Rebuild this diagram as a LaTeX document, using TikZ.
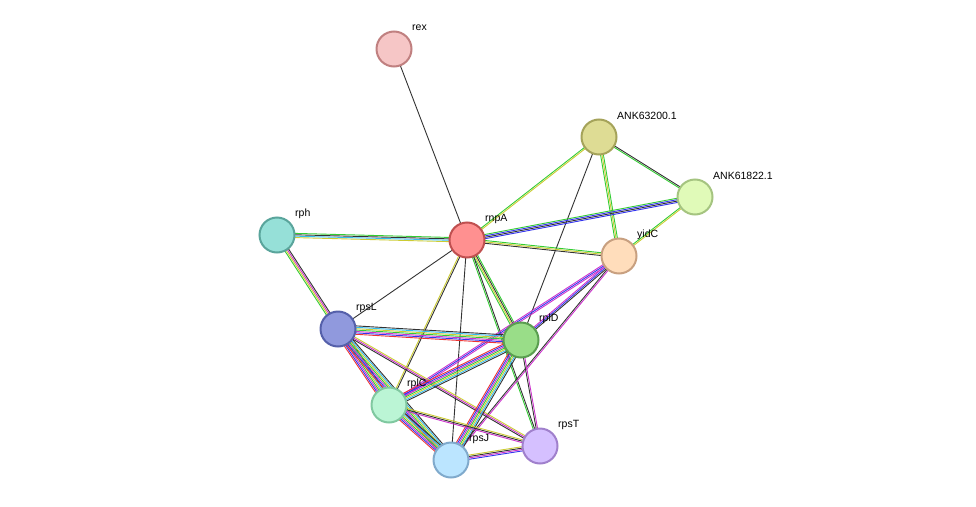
\documentclass[tikz,border=0pt]{standalone}
\usepackage{fontspec}
\setmainfont{Liberation Sans}
\usetikzlibrary{calc}
\definecolor{egreen}{HTML}{33CC33}
\definecolor{eyellow}{HTML}{CCCC33}
\definecolor{eblue}{HTML}{3333EE}
\definecolor{emag}{HTML}{CC33CC}
\definecolor{eblack}{HTML}{333333}
\definecolor{ecyan}{HTML}{33BBEE}
\definecolor{ered}{HTML}{EE3333}
\tikzset{prot/.style={circle,minimum size=35pt,inner sep=0pt,line width=2pt},
 lab/.style={font=\fontsize{10.5}{12}\selectfont,anchor=west,inner sep=0pt}}
\newcommand{\edge}[4]{%
 \foreach \c [count=\i] in {#4}{%
  \pgfmathsetmacro{\o}{(\i-(#3+1)/2)*1.4}%
  \draw[color=e\c,line width=0.9pt] ($(#1)!\o pt!90:(#2)$) -- ($(#2)!\o pt!-90:(#1)$);}}
\begin{document}
\begin{tikzpicture}[x=1pt,y=-1pt]
\useasboundingbox (0,0) rectangle (976,506);
\coordinate (rex) at (394,49);
\coordinate (a63) at (599,137);
\coordinate (a61) at (695,197);
\coordinate (rph) at (277,235);
\coordinate (rnpA) at (467,240);
\coordinate (yidC) at (619,256);
\coordinate (rpsL) at (338,329);
\coordinate (rplD) at (521,340);
\coordinate (rplC) at (389,405);
\coordinate (rpsJ) at (451,460);
\coordinate (rpsT) at (540,446);
\edge{rex}{rnpA}{1}{black}
\edge{a63}{rnpA}{2}{green,yellow}
\edge{a63}{a61}{2}{green,black}
\edge{a63}{yidC}{3}{green,yellow,green}
\edge{a63}{rplD}{1}{black}
\edge{a61}{rnpA}{4}{green,blue,black,blue}
\edge{a61}{yidC}{2}{green,yellow}
\edge{rph}{rnpA}{4}{yellow,cyan,black,green}
\edge{rph}{rpsL}{4}{green,yellow,mag,black}
\edge{rnpA}{yidC}{3}{black,yellow,green}
\edge{rnpA}{rpsL}{1}{black}
\edge{rnpA}{rplD}{4}{green,yellow,black,green}
\edge{rnpA}{rplC}{2}{yellow,black}
\edge{rnpA}{rpsJ}{1}{black}
\edge{rnpA}{rpsT}{2}{green,black}
\edge{yidC}{rplD}{3}{mag,blue,black}
\edge{yidC}{rplC}{3}{mag,blue,mag}
\edge{yidC}{rpsJ}{2}{black,mag}
\edge{rpsL}{rplD}{7}{red,blue,mag,green,yellow,cyan,black}
\edge{rpsL}{rplC}{7}{red,blue,mag,green,yellow,cyan,black}
\edge{rpsL}{rpsJ}{7}{red,blue,mag,green,yellow,cyan,black}
\edge{rpsL}{rpsT}{3}{black,mag,yellow}
\edge{rplD}{rplC}{7}{red,blue,mag,green,yellow,cyan,black}
\edge{rplD}{rpsJ}{7}{red,blue,mag,green,yellow,cyan,black}
\edge{rplD}{rpsT}{2}{black,mag}
\edge{rplC}{rpsJ}{7}{red,blue,mag,green,yellow,cyan,black}
\edge{rplC}{rpsT}{3}{mag,black,yellow}
\edge{rpsJ}{rpsT}{4}{blue,mag,black,yellow}
\node[prot,fill={rgb,255:red,246;green,198;blue,198},draw={rgb,255:red,192;green,128;blue,128}] (nrex) at (rex) {};
\node[prot,fill={rgb,255:red,222;green,220;blue,148},draw={rgb,255:red,165;green,163;blue,90}] (n63) at (a63) {};
\node[prot,fill={rgb,255:red,224;green,250;blue,184},draw={rgb,255:red,165;green,196;blue,128}] (n61) at (a61) {};
\node[prot,fill={rgb,255:red,150;green,224;blue,216},draw={rgb,255:red,90;green,165;blue,156}] (nrph) at (rph) {};
\node[prot,fill={rgb,255:red,255;green,144;blue,144},draw={rgb,255:red,192;green,80;blue,80}] (nrnpA) at (rnpA) {};
\node[prot,fill={rgb,255:red,255;green,221;blue,187},draw={rgb,255:red,200;green,160;blue,128}] (nyidC) at (yidC) {};
\node[prot,fill={rgb,255:red,144;green,153;blue,221},draw={rgb,255:red,85;green,96;blue,170}] (nrpsL) at (rpsL) {};
\node[prot,fill={rgb,255:red,153;green,221;blue,136},draw={rgb,255:red,90;green,158;blue,80}] (nrplD) at (rplD) {};
\node[prot,fill={rgb,255:red,187;green,245;blue,213},draw={rgb,255:red,128;green,200;blue,160}] (nrplC) at (rplC) {};
\node[prot,fill={rgb,255:red,187;green,229;blue,255},draw={rgb,255:red,128;green,170;blue,204}] (nrpsJ) at (rpsJ) {};
\node[prot,fill={rgb,255:red,213;green,192;blue,255},draw={rgb,255:red,160;green,128;blue,204}] (nrpsT) at (rpsT) {};
\node[lab] (lrex) at ([shift={(18,-21)}]rex) {rex};
\node[lab] (l63) at ([shift={(18,-21)}]a63) {ANK63200.1};
\node[lab] (l61) at ([shift={(18,-21)}]a61) {ANK61822.1};
\node[lab] (lrph) at ([shift={(18,-21)}]rph) {rph};
\node[lab] (lrnpA) at ([shift={(18,-21)}]rnpA) {rnpA};
\node[lab] (lyidC) at ([shift={(18,-21)}]yidC) {yidC};
\node[lab] (lrpsL) at ([shift={(18,-21)}]rpsL) {rpsL};
\node[lab] (lrplD) at ([shift={(18,-21)}]rplD) {rplD};
\node[lab] (lrplC) at ([shift={(18,-21)}]rplC) {rplC};
\node[lab] (lrpsJ) at ([shift={(18,-21)}]rpsJ) {rpsJ};
\node[lab] (lrpsT) at ([shift={(18,-21)}]rpsT) {rpsT};
\end{tikzpicture}
\end{document}
